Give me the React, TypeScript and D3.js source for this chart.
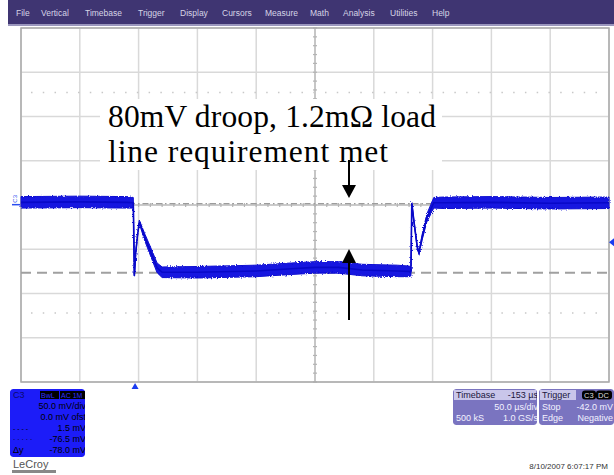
import React from "react";
import * as d3 from "d3";

// ---- data ----
const timeUs = [-250, -200, -160, -154.5, -153.6, -152.5, -151, -149.4, -144.6, -139.4, -134.3, -130, -100, -50, -20, 0, 20, 40, 70, 80, 81.6, 82.3, 84, 87, 88.5, 91, 95, 101, 110, 150, 200, 250];
const traceMv = [3, 3.5, 3, 2.5, -80, -55, -35, -19, -37, -54, -71, -76, -76, -74.5, -72, -70.5, -70.5, -73.5, -74.5, -75, -75, 2.3, -17, -48, -54, -37, -15, 2.5, 2.5, 3, 2, 2.5];
const bandMv = [6.5, 6.5, 6.5, 6, 0.6, 1.2, 1.5, 2, 4, 5, 5.5, 6, 6.5, 6.5, 6.5, 6.5, 6.5, 6.5, 6.5, 6, 5, 0.6, 1, 1.5, 2, 3, 4.5, 6, 6.5, 6.5, 6.5, 6.5];

const timeDomain = [-250, 250];
const voltDomain = [-200, 200];
const timeDivUs = 50;
const voltDivMv = 50;
const cursorMv = [1.5, -76.5];
const dottedMv = [127, -122];
const triggerTimeUs = -153;
const triggerLevelMv = -42;

const menuItems = ["File", "Vertical", "Timebase", "Trigger", "Display", "Cursors", "Measure", "Math", "Analysis", "Utilities", "Help"];
const menuX = [16, 41, 85, 138, 180, 222, 265, 310, 343, 390, 432];

const chRows = ["50.0 mV/div", "0.0 mV ofst", "1.5 mV", "-76.5 mV", "-78.0 mV"];
const chRowLabels = ["", "", "- - - -", "· · · · ·", "Δy"];
const tbRows = [["Timebase", "-153 µs"], ["", "50.0 µs/div"], ["500 kS", "1.0 GS/s"]];
const trRows = [["Trigger", ""], ["Stop", "-42.0 mV"], ["Edge", "Negative"]];

const annotation = ["80mV droop, 1.2mΩ load", "line requirement met"];
const annotationWidth = [328, 280];
const dateText = "8/10/2007 6:07:17 PM";

export default function App() {
  const W = 614, H = 475;
  const x0 = 21, x1 = 609, y0 = 28, y1 = 382;
  const x = d3.scaleLinear().domain(timeDomain).range([x0, x1]);
  const y = d3.scaleLinear().domain(voltDomain).range([y1, y0]);

  const vTicks = d3.range(timeDomain[0], timeDomain[1] + 0.1, timeDivUs);
  const hTicks = d3.range(voltDomain[0], voltDomain[1] + 0.1, voltDivMv);
  const minorX = d3.range(timeDomain[0], timeDomain[1] + 0.1, timeDivUs / 5);
  const minorY = d3.range(voltDomain[0], voltDomain[1] + 0.1, voltDivMv / 5);

  const pts = timeUs.map((t, i) => ({ t, v: traceMv[i], b: bandMv[i] }));
  const area = d3.area<any>().x(d => x(d.t)).y0(d => y(d.v - d.b)).y1(d => y(d.v + d.b));
  const line = d3.line<any>().x(d => x(d.t)).y(d => y(d.v));

  const grid = "#d9d9d9";
  const axisC = "#b4b4b4";
  const sans = "'Liberation Sans', Arial, sans-serif";

  const ax = 349;
  return (
    <svg width={W} height={H} style={{ position: "absolute", left: 0, top: 0, background: "#fff" }}>
      <defs>
        <filter id="noise" x="-5%" y="-20%" width="110%" height="140%">
          <feTurbulence type="fractalNoise" baseFrequency="0.8" numOctaves="1" seed="4" />
          <feDisplacementMap in="SourceGraphic" scale="3.5" />
        </filter>
        <clipPath id="chclip"><rect x={10} y={389} width={75} height={68} rx={3} /></clipPath>
        <clipPath id="tbclip"><rect x={453} y={389} width={84} height={36} rx={3} /></clipPath>
        <clipPath id="trclip"><rect x={539} y={389} width={75} height={36} rx={3} /></clipPath>
      </defs>
      <rect x={0} y={0} width={W} height={H} fill="#fff" />

      {/* menu bar */}
      <rect x={8} y={0} width={W - 8} height={24} fill="#3f3572" />
      <rect x={8} y={24} width={W - 8} height={2} fill="#9a96bd" />
      {menuItems.map((m, i) => (
        <text key={m} x={menuX[i]} y={16} fontFamily={sans} fontSize={8.5} fill="#d6d4e6">{m}</text>
      ))}

      {/* grid */}
      {vTicks.map(t => (
        <line key={"v" + t} x1={x(t)} x2={x(t)} y1={y0} y2={y1} stroke={grid} strokeWidth={1.5} />
      ))}
      {hTicks.map(v => (
        <line key={"h" + v} x1={x0} x2={x1} y1={y(v)} y2={y(v)} stroke={grid} strokeWidth={1.5} />
      ))}
      <line x1={x(0)} x2={x(0)} y1={y0} y2={y1} stroke={axisC} strokeWidth={1.2} />
      <line x1={x0} x2={x1} y1={y(0)} y2={y(0)} stroke={axisC} strokeWidth={1} />
      {minorY.map(v => (
        <line key={"my" + v} x1={x(0) - 2} x2={x(0) + 2} y1={y(v)} y2={y(v)} stroke={axisC} strokeWidth={1.2} />
      ))}
      {minorX.map(t => (
        <line key={"mx" + t} x1={x(t)} x2={x(t)} y1={y(0) - 2} y2={y(0) + 2} stroke={axisC} strokeWidth={1.2} />
      ))}
      {dottedMv.map(v => (
        <line key={"d" + v} x1={x0 + 10} x2={x1 - 12} y1={y(v)} y2={y(v)} stroke="#c8c8c8" strokeWidth={1.5} strokeDasharray="1.5 10.26" />
      ))}
      <rect x={x0} y={y0} width={x1 - x0} height={y1 - y0} fill="none" stroke="#aaaaaa" strokeWidth={1.5} />

      {/* cursors */}
      <line x1={x0} x2={x1} y1={y(cursorMv[0])} y2={y(cursorMv[0])} stroke="#9c9c9c" strokeWidth={1.3} strokeDasharray="6 3 1.5 3" />
      <line x1={x0} x2={x1} y1={y(cursorMv[1])} y2={y(cursorMv[1])} stroke="#a0a0a0" strokeWidth={2} strokeDasharray="10 6" />

      {/* annotation background */}
      <rect x={100} y={99} width={342} height={71} fill="#fff" />

      {/* trace */}
      <g filter="url(#noise)">
        <path d={area(pts) || ""} fill="#1414e0" stroke="#1010d0" strokeWidth={1} />
      </g>
      <path d={line(pts) || ""} fill="none" stroke="#0808c8" strokeWidth={1.6} />

      {/* markers */}
      <path d={`M${x(triggerTimeUs)},${y1 + 1} l-3.5,6 h7 z`} fill="#1a3cf0" />
      <path d={`M${W - 5},${y(triggerLevelMv)} l5,-4 v8 z`} fill="#1a3cf0" />
      <text x={0} y={0} transform={`translate(17,${y(cursorMv[0]) - 1}) rotate(-90)`} fontFamily={sans} fontSize={6} fill="#2a4cf0">C3</text>
      <line x1={12} x2={20} y1={y(cursorMv[0]) + 1} y2={y(cursorMv[0]) + 1} stroke="#2a4cf0" strokeWidth={1.5} />

      {/* annotation */}
      {annotation.map((s, i) => (
        <text key={s} x={108} y={127 + i * 35} textLength={annotationWidth[i]} lengthAdjust="spacing" fontFamily="'Liberation Serif', 'Times New Roman', serif" fontSize={31.5} fill="#000">{s}</text>
      ))}
      <line x1={ax} x2={ax} y1={160} y2={186} stroke="#000" strokeWidth={2} />
      <path d={`M${ax - 7},${185} h14 l-7,13 z`} fill="#000" />
      <line x1={ax} x2={ax} y1={262} y2={320} stroke="#000" strokeWidth={2} />
      <path d={`M${ax - 7},${263} h14 l-7,-14 z`} fill="#000" />

      {/* channel box */}
      <g clipPath="url(#chclip)">
        <rect x={10} y={389} width={75} height={68} rx={3} fill="#1c1cf8" />
        <text x={13} y={398} fontFamily={sans} fontSize={9} fill="#0a0a70">C3</text>
        <rect x={40} y={391} width={19} height={8} fill="#000" />
        <text x={41} y={398} fontFamily={sans} fontSize={7} fill="#3030ff">BwL</text>
        <rect x={60} y={391} width={26} height={8} fill="#000" />
        <text x={61} y={398} fontFamily={sans} fontSize={7} fill="#3030ff">AC 1M</text>
        {chRows.map((r, i) => (
          <g key={r}>
            <text x={86} y={409 + i * 11} textAnchor="end" fontFamily={sans} fontSize={9} fill="#000">{r}</text>
            <text x={13} y={409 + i * 11} fontFamily={sans} fontSize={i === 4 ? 9 : 7} fill="#000">{chRowLabels[i]}</text>
          </g>
        ))}
      </g>
      <text x={13} y={468} fontFamily={sans} fontSize={11} fill="#555">LeCroy</text>
      <rect x={12} y={470} width={44} height={3} fill="#888" />

      {/* timebase box */}
      <g clipPath="url(#tbclip)">
        <rect x={453} y={389} width={84} height={36} rx={3} fill="#7a74c0" />
        <rect x={454} y={390} width={82} height={10} fill="#c9c6ea" />
        {tbRows.map((r, i) => (
          <g key={i}>
            <text x={456} y={398 + i * 11.5} fontFamily={sans} fontSize={9} fill={i === 0 ? "#1a1640" : "#f2f2ff"}>{r[0]}</text>
            <text x={538} y={398 + i * 11.5} textAnchor="end" fontFamily={sans} fontSize={9} fill={i === 0 ? "#1a1640" : "#f2f2ff"}>{r[1]}</text>
          </g>
        ))}
      </g>
      <g clipPath="url(#trclip)">
        <rect x={539} y={389} width={75} height={36} rx={3} fill="#7a74c0" />
        <rect x={540} y={390} width={36} height={10} fill="#c9c6ea" />
        <rect x={582} y={390.5} width={14} height={9} rx={3} fill="#000" />
        <text x={584} y={398} fontFamily={sans} fontSize={7.5} fill="#ddd">C3</text>
        <rect x={596} y={390.5} width={16} height={9} rx={3} fill="#000" />
        <text x={598} y={398} fontFamily={sans} fontSize={7.5} fill="#ddd">DC</text>
        {trRows.map((r, i) => (
          <g key={i}>
            <text x={542} y={398 + i * 11.5} fontFamily={sans} fontSize={9} fill={i === 0 ? "#1a1640" : "#f2f2ff"}>{r[0]}</text>
            <text x={613} y={398 + i * 11.5} textAnchor="end" fontFamily={sans} fontSize={9} fill="#f2f2ff">{r[1]}</text>
          </g>
        ))}
      </g>

      <text x={608} y={469} textAnchor="end" fontFamily={sans} fontSize={8} fill="#333">{dateText}</text>
    </svg>
  );
}
